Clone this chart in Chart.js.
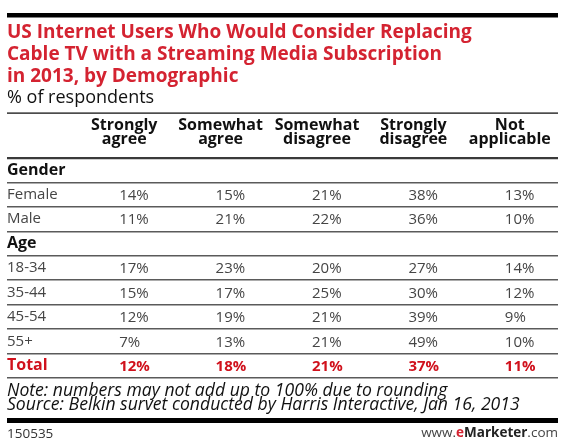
<!DOCTYPE html>
<html>
<head>
<meta charset="utf-8">
<script src="https://cdn.jsdelivr.net/npm/chart.js@4.4.0/dist/chart.umd.min.js"></script>
<style>
  html, body { margin: 0; padding: 0; background: #fff; }
  #wrap { width: 570px; height: 446px; }
</style>
</head>
<body>
<div id="wrap"><canvas id="tabla"></canvas></div>
<script>
// datos de la tabla
const columnas = ["Strongly agree", "Somewhat agree", "Somewhat disagree", "Strongly disagree", "Not applicable"];
const filas = ["Gender", "Female", "Male", "Age", "18-34", "35-44", "45-54", "55+", "Total"];

const female = [14, 15, 21, 38, 13];
const male = [11, 21, 22, 36, 10];
const age18a34 = [17, 23, 20, 27, 14];
const age35a44 = [15, 17, 25, 30, 12];
const age45a54 = [12, 19, 21, 39, 9];
const age55mas = [7, 13, 21, 49, 10];
const total = [12, 18, 21, 37, 11];

const series = [
  { fila: "Female", valores: female },
  { fila: "Male", valores: male },
  { fila: "18-34", valores: age18a34 },
  { fila: "35-44", valores: age35a44 },
  { fila: "45-54", valores: age45a54 },
  { fila: "55+", valores: age55mas },
  { fila: "Total", valores: total }
];

const rojoTitulo = "#d42331";
const rojoTotal = "#d0111c";
const fuente = '"Open Sans", "DejaVu Sans", sans-serif';

// los porcentajes y los adornos (barras negras, nota, pie)
const extrasTabla = {
  id: "extrasTabla",
  afterDatasetsDraw(chart) {
    const ctx = chart.ctx;
    ctx.save();
    ctx.textAlign = "left";
    ctx.textBaseline = "middle";
    chart.data.datasets.forEach((ds, i) => {
      const meta = chart.getDatasetMeta(i);
      const esTotal = ds.label === "Total";
      ctx.font = (esTotal ? "bold " : "") + "15px " + fuente;
      ctx.fillStyle = esTotal ? rojoTotal : "#454545";
      meta.data.forEach((pt, j) => {
        ctx.fillText(ds.data[j].v + "%", pt.x - 5, pt.y + 1);
      });
    });
    ctx.restore();
  },
  afterDraw(chart) {
    const ctx = chart.ctx;
    const izq = 7, der = 558;
    ctx.save();
    ctx.fillStyle = "#000";
    ctx.fillRect(izq, 13, der - izq, 4.5);
    ctx.fillRect(izq, 112.5, der - izq, 1.2);
    ctx.fillRect(izq, 418, der - izq, 5);

    ctx.textBaseline = "alphabetic";
    ctx.textAlign = "left";
    ctx.fillStyle = "#111";
    ctx.font = "italic 17.6px " + fuente;
    ctx.fillText("Note: numbers may not add up to 100% due to rounding", izq, 396);
    ctx.fillText("Source: Belkin survet conducted by Harris Interactive, Jan 16, 2013", izq, 410);

    ctx.fillStyle = "#333";
    ctx.font = "13.5px " + fuente;
    ctx.fillText("150535", izq, 438);

    // www.eMarketer.com alineado a la derecha
    const partes = [
      { t: "www.", f: "13.5px " + fuente, c: "#444" },
      { t: "e", f: "bold 13.5px " + fuente, c: rojoTitulo },
      { t: "Marketer", f: "bold 13.5px " + fuente, c: "#222" },
      { t: ".com", f: "13.5px " + fuente, c: "#444" }
    ];
    let ancho = 0;
    partes.forEach(p => { ctx.font = p.f; ancho += ctx.measureText(p.t).width; });
    let x = der - ancho;
    partes.forEach(p => {
      ctx.font = p.f;
      ctx.fillStyle = p.c;
      ctx.fillText(p.t, x, 437);
      x += ctx.measureText(p.t).width;
    });
    ctx.restore();
  }
};

new Chart(document.getElementById("tabla"), {
  type: "scatter",
  data: {
    datasets: series.map(s => ({
      label: s.fila,
      data: s.valores.map((v, j) => ({ x: columnas[j], y: s.fila, v: v })),
      pointRadius: 0,
      pointHoverRadius: 0
    }))
  },
  options: {
    responsive: true,
    maintainAspectRatio: false,
    animation: false,
    events: [],
    layout: {
      padding: { top: 0, left: 7, right: 12, bottom: 68 }
    },
    plugins: {
      legend: { display: false },
      tooltip: { enabled: false },
      title: {
        display: true,
        align: "start",
        text: [
          "US Internet Users Who Would Consider Replacing",
          "Cable TV with a Streaming Media Subscription",
          "in 2013, by Demographic"
        ],
        color: rojoTitulo,
        font: { family: fuente, size: 19, weight: "bold", lineHeight: 1.174 },
        padding: { top: 21, bottom: 0 }
      },
      subtitle: {
        display: true,
        align: "start",
        text: "% of respondents",
        color: "#111",
        font: { family: fuente, size: 18, lineHeight: 1.1 },
        padding: { top: 0, bottom: 5.3 }
      }
    },
    scales: {
      x: {
        type: "category",
        labels: columnas,
        position: "top",
        offset: true,
        grid: { display: false, drawTicks: false },
        border: { display: false },
        afterFit: scale => { scale.height = 45; },
        ticks: {
          padding: 12,
          maxRotation: 0,
          autoSkip: false,
          color: "#111",
          font: { family: fuente, size: 16, weight: "bold", lineHeight: 0.875 },
          callback: function (valor) {
            return this.getLabelForValue(valor).split(" ");
          }
        }
      },
      y: {
        type: "category",
        labels: filas,
        offset: true,
        border: { display: false },
        afterFit: scale => { scale.width = 69; },
        grid: {
          offset: true,
          drawTicks: true,
          tickLength: 69,
          color: ctx => ctx.index === 0 ? "#3a3a3a" : "#5a5a5a",
          lineWidth: ctx => ctx.index === 0 ? 2.2 : 1.6
        },
        ticks: {
          crossAlign: "far",
          padding: 0,
          autoSkip: false,
          color: ctx => {
            const f = filas[ctx.index];
            if (f === "Total") return rojoTotal;
            if (f === "Gender" || f === "Age") return "#111";
            return "#454545";
          },
          font: ctx => {
            const f = filas[ctx.index];
            if (f === "Total" || f === "Gender" || f === "Age") {
              return { family: fuente, size: 16, weight: "bold" };
            }
            return { family: fuente, size: 15 };
          }
        }
      }
    }
  },
  plugins: [extrasTabla]
});
</script>
</body>
</html>
